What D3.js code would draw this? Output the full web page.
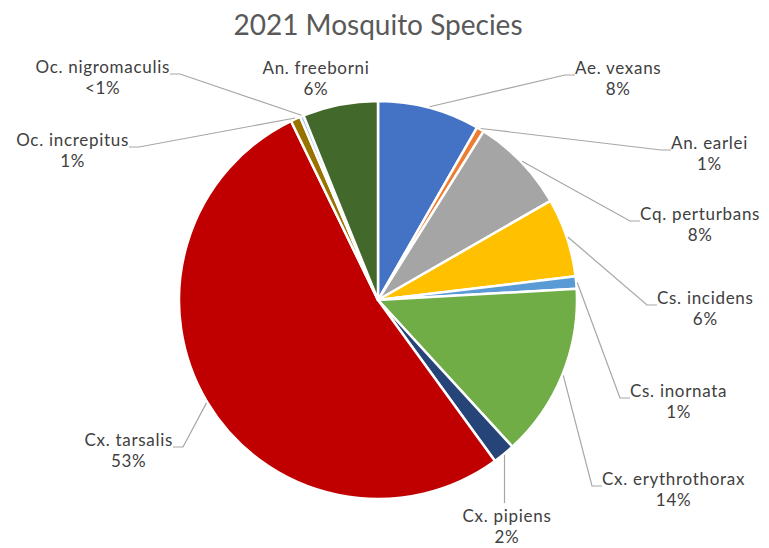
<!DOCTYPE html>
<html>
<head>
<meta charset="utf-8">
<script src="https://cdn.jsdelivr.net/npm/d3@7/dist/d3.min.js"></script>
<style>
  body { margin: 0; background: #fff; }
  svg { display: block; overflow: hidden; }
  text { font-family: Lato, "Open Sans", sans-serif; }
</style>
</head>
<body>
<svg></svg>
<script>
var species = ["Ae. vexans", "An. earlei", "Cq. perturbans", "Cs. incidens", "Cs. inornata",
               "Cx. erythrothorax", "Cx. pipiens", "Cx. tarsalis", "Oc. increpitus",
               "Oc. nigromaculis", "An. freeborni"]
// share of the catch, percent
var shares = [8.3, 0.6, 7.8, 6.4, 1.0, 14.1, 1.8, 52.8, 0.8, 0.3, 6.1]
var colors = ["#4472C4", "#ED7D31", "#A5A5A5", "#FFC000", "#5B9BD5",
              "#70AD47", "#264478", "#C00000", "#997300", "#9DC3E6", "#43682B"]

// label placement: x of the edge the leader meets (or centre), first baseline y
var labelPos = [[575, 74], [671, 149], [640, 220], [657, 304], [630, 397],
                [602, 485], [507, 522], [173, 446], [129, 146], [170, 73], [316, 74]]
var leaderSide = ["left", "left", "left", "left", "left", "left", "top", "right", "right", "right", "none"]

var width = 769
var height = 548
var cx = 378
var cy = 300
var radius = 199

var svg = d3.select("svg")
    .attr("width", width)
    .attr("height", height)

svg.append("text")
    .text("2021 Mosquito Species")
    .attr("x", cx)
    .attr("y", 35)
    .attr("text-anchor", "middle")
    .attr("font-size", 28)
    .attr("fill", "#595959")

var data = species.map(function(s, i){
    return {name: s, share: shares[i], color: colors[i]}
})

var pie = d3.pie()
    .sort(null)
    .value(d => d.share)

var arcs = pie(data)

var arc = d3.arc()
    .innerRadius(0)
    .outerRadius(radius)

var g = svg.append("g")
    .attr("transform", "translate(" + cx + "," + cy + ")")

g.selectAll("path")
    .data(arcs)
    .enter()
    .append("path")
    .attr("d", arc)
    .attr("fill", d => d.data.color)
    .attr("stroke", "#fff")
    .attr("stroke-width", 2.5)
    .attr("stroke-linejoin", "round")

function pctText(v){
    if(v < 0.5) return "<1%"
    return Math.round(v) + "%"
}

var labels = svg.append("g")
var leaders = svg.append("g")

arcs.forEach(function(a, i){
    var pos = labelPos[i]
    var side = leaderSide[i]
    var t = labels.append("text")
        .attr("text-anchor", "middle")
        .attr("font-size", 17)
        .attr("letter-spacing", 0.7)
        .attr("fill", "#404040")
    var first = t.append("tspan")
        .attr("y", pos[1])
        .text(a.data.name)
    var w = first.node().getComputedTextLength()
    var mx = pos[0]
    if(side == "left") mx = pos[0] + w / 2
    if(side == "right") mx = pos[0] - w / 2
    first.attr("x", mx)
    t.append("tspan")
        .attr("x", mx)
        .attr("y", pos[1] + 21)
        .text(pctText(a.data.share))

    if(side == "none") return
    var mid = (a.startAngle + a.endAngle) / 2
    var p0 = [cx + (radius + 1) * Math.sin(mid), cy - (radius + 1) * Math.cos(mid)]
    var pts
    if(side == "left"){
        pts = [p0, [pos[0] - 10, pos[1] + 1], [pos[0], pos[1] + 1]]
    } else if(side == "right"){
        pts = [p0, [pos[0] + 10, pos[1] + 1], [pos[0], pos[1] + 1]]
    } else {
        pts = [p0, [p0[0], pos[1] - 19]]
    }
    leaders.append("path")
        .attr("d", d3.line()(pts))
        .attr("fill", "none")
        .attr("stroke", "#A6A6A6")
        .attr("stroke-width", 1.2)
})
</script>
</body>
</html>
